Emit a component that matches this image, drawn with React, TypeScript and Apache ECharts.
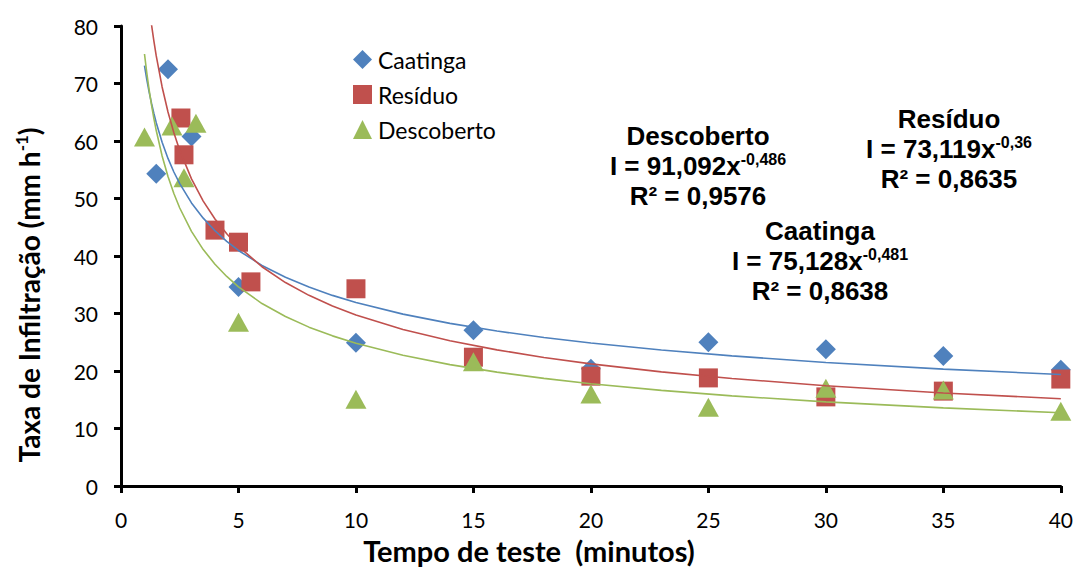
import React, { useEffect, useRef } from "react";
import * as echarts from "echarts";

const caatingaX = [1.5, 2, 3, 5, 10, 15, 20, 25, 30, 35, 40];
const caatingaY = [54.3, 72.5, 60.8, 34.6, 24.9, 27.1, 20.4, 25.0, 23.8, 22.6, 20.2];

const residuoX = [2.55, 2.68, 4, 5, 5.53, 10, 15, 20, 25, 30, 35, 40];
const residuoY = [64.0, 57.6, 44.5, 42.4, 35.5, 34.3, 22.4, 19.1, 18.8, 15.5, 16.5, 18.6];

const descobertoX = [1, 2.17, 3.19, 2.68, 5, 10, 15, 20, 25, 30, 35, 40];
const descobertoY = [60.7, 62.6, 63.1, 53.6, 28.5, 15.1, 21.6, 16.0, 13.7, 17.0, 16.7, 13.0];

// trend curves at these x positions
const trendX = [1, 1.1, 1.2, 1.3, 1.4, 1.5, 1.75, 2, 2.25, 2.5, 3, 3.5, 4, 4.5, 5, 6, 7, 8, 9, 10, 12, 14, 16, 18, 20, 23, 26, 30, 35, 40];
const blueTrendY = [73.12, 70.65, 68.47, 66.53, 64.78, 63.19, 59.78, 56.97, 54.61, 52.58, 49.23, 46.58, 44.39, 42.55, 40.96, 38.36, 36.29, 34.59, 33.15, 31.92, 29.89, 28.28, 26.95, 25.83, 24.87, 23.65, 22.63, 21.49, 20.33, 19.38];
const redTrendX = [1.3, 1.4, 1.5, 1.75, 2, 2.25, 2.5, 3, 3.5, 4, 4.5, 5, 6, 7, 8, 9, 10, 12, 14, 16, 18, 20, 23, 26, 30, 35, 40];
const redTrendY = [80.19, 77.35, 74.80, 69.40, 65.04, 61.42, 58.36, 53.41, 49.55, 46.44, 43.86, 41.67, 38.13, 35.38, 33.16, 31.31, 29.75, 27.23, 25.26, 23.67, 22.36, 21.24, 19.85, 18.70, 17.44, 16.18, 15.17];
const greenTrendY = [75.13, 71.76, 68.82, 66.22, 63.90, 61.82, 57.40, 53.83, 50.86, 48.35, 44.29, 41.12, 38.57, 36.44, 34.64, 31.73, 29.47, 27.63, 26.11, 24.82, 22.74, 21.11, 19.80, 18.71, 17.78, 16.63, 15.67, 14.63, 13.59, 12.74];

const seriesNames = ["Caatinga", "Resíduo", "Descoberto"];
const colors = ["#4F81BD", "#C0504D", "#9BBB59"];

const annotations = [
  { title: "Descoberto", coef: "91,092", exp: "-0,486", r2: "0,9576", cx: 698, cy: 136 },
  { title: "Resíduo", coef: "73,119", exp: "-0,36", r2: "0,8635", cx: 949, cy: 119 },
  { title: "Caatinga", coef: "75,128", exp: "-0,481", r2: "0,8638", cx: 820, cy: 231 },
];

const zip = (xs: number[], ys: number[]) => xs.map((x, i) => [x, ys[i]]);

export default function App() {
  const ref = useRef<HTMLDivElement>(null);
  useEffect(() => {
    document.body.style.margin = "0";
    const chart = echarts.init(ref.current!, null, { renderer: "svg" });
    const tickFont = "Lato";
    const annFont = "Liberation Sans";
    const graphics: any[] = [];
    annotations.forEach((a) => {
      const base = { fontFamily: annFont, fontWeight: "bold", fontSize: 26, fill: "#000" };
      graphics.push({
        type: "text",
        x: a.cx,
        y: a.cy,
        style: { ...base, text: a.title, align: "center", verticalAlign: "middle" },
      });
      graphics.push({
        type: "text",
        x: a.cx,
        y: a.cy + 30,
        style: {
          ...base,
          text: `{m|I = ${a.coef}x}{s|${a.exp}}`,
          align: "center",
          verticalAlign: "middle",
          rich: {
            m: { fontFamily: annFont, fontWeight: "bold", fontSize: 26, lineHeight: 30, color: "#000" },
            s: { fontFamily: annFont, fontWeight: "bold", fontSize: 16, lineHeight: 30, verticalAlign: "top", padding: [0, 0, 12, 0], color: "#000" },
          },
        },
      });
      graphics.push({
        type: "text",
        x: a.cx,
        y: a.cy + 60,
        style: { ...base, text: `R² = ${a.r2}`, align: "center", verticalAlign: "middle" },
      });
    });
    graphics.push({
      type: "text",
      x: 29,
      y: 295,
      rotation: Math.PI / 2,
      style: {
        text: "{m|Taxa de Infiltração (mm h}{s|-1}{m|)}",
        align: "center",
        verticalAlign: "middle",
        rich: {
          m: { fontFamily: tickFont, fontWeight: "bold", fontSize: 28, lineHeight: 32, color: "#000" },
          s: { fontFamily: tickFont, fontWeight: "bold", fontSize: 17, lineHeight: 32, verticalAlign: "top", padding: [0, 0, 12, 0], color: "#000" },
        },
      },
    });
    graphics.push({
      type: "text",
      x: 529,
      y: 550,
      style: {
        text: "Tempo de teste  (minutos)",
        fontFamily: tickFont,
        fontWeight: "bold",
        fontSize: 29,
        fill: "#000",
        align: "center",
        verticalAlign: "middle",
      },
    });

    const axisCommon = {
      axisLine: { show: true, lineStyle: { color: "#000", width: 3 } },
      axisTick: { show: true, inside: false, length: 7, lineStyle: { color: "#000", width: 3 } },
      splitLine: { show: false },
      axisLabel: { color: "#000", fontFamily: tickFont, fontSize: 21, margin: 23 },
    };

    const symbols = ["diamond", "rect", "triangle"];
    const sizes = [[20, 20], [19, 19], [21, 19]];
    const scatterData = [zip(caatingaX, caatingaY), zip(residuoX, residuoY), zip(descobertoX, descobertoY)];
    const trendData = [zip(trendX, blueTrendY), zip(redTrendX, redTrendY), zip(trendX, greenTrendY)];

    const series: any[] = [];
    seriesNames.forEach((name, i) => {
      series.push({
        name,
        type: "scatter",
        symbol: symbols[i],
        symbolSize: sizes[i],
        itemStyle: { color: colors[i], opacity: 1 },
        data: scatterData[i],
        z: 2 + i,
      });
    });
    seriesNames.forEach((name, i) => {
      series.push({
        name: name + " tendência",
        type: "line",
        showSymbol: false,
        symbol: "none",
        smooth: false,
        clip: true,
        lineStyle: { color: colors[i], width: 1.6 },
        data: trendData[i],
        z: 6,
        silent: true,
      });
    });

    chart.setOption({
      animation: false,
      backgroundColor: "#fff",
      grid: { left: 121, right: 15, top: 26, bottom: 83, containLabel: false },
      legend: {
        data: seriesNames,
        orient: "vertical",
        left: 348,
        top: 43,
        itemWidth: 19,
        itemHeight: 19,
        itemGap: 12,
        textStyle: { fontFamily: tickFont, fontSize: 23, color: "#000", padding: [0, 0, 0, 1] },
      },
      xAxis: { type: "value", min: 0, max: 40, interval: 5, ...axisCommon },
      yAxis: { type: "value", min: 0, max: 80, interval: 10, ...axisCommon },
      series,
      graphic: graphics,
    });
    return () => chart.dispose();
  }, []);
  return <div ref={ref} style={{ width: 1076, height: 569 }} />;
}
